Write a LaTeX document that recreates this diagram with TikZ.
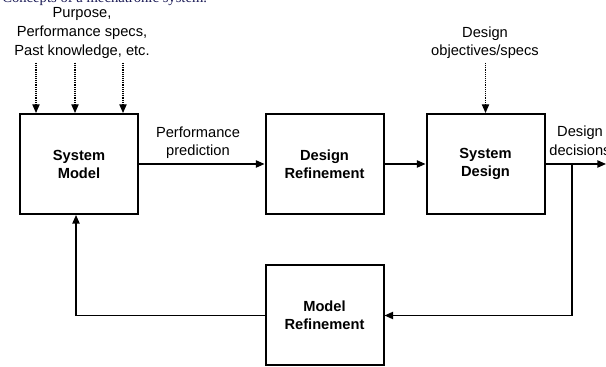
\documentclass[tikz,border=0pt]{standalone}
\usepackage{fontspec}
\setmainfont{Liberation Sans}
\newfontfamily\capfont{Liberation Serif}
\usetikzlibrary{arrows.meta}
\definecolor{capblue}{RGB}{25,25,85}

\begin{document}
\begin{tikzpicture}[x=0.75pt,y=0.75pt,
        block/.style={draw,line width=1.5pt,minimum width=88.5pt,minimum height=75pt,
            align=center,font=\fontsize{11}{13.5}\selectfont\bfseries},
        lbl/.style={align=center,font=\fontsize{11}{13.9}\selectfont},
        flow/.style={line width=1pt,-{Triangle[length=6.5pt,width=5.5pt]}},
        input/.style={flow,line width=0.8pt,dash pattern=on 0.7pt off 0.7pt}]
    \useasboundingbox (0,0) rectangle (606,367);
    %% caption
    \node[anchor=base west,inner sep=0pt,font=\capfont\fontsize{11}{13}\selectfont,text=capblue] (cap) at (2,364.5) {Concepts of a mechatronic system.};
    %% blocks
    \node[block] (SM) at (79,203) {System\\Model};
    \node[block] (DR) at (324.5,203) {Design\\Refinement};
    \node[block] (SD) at (485.5,203) {System\\Design};
    \node[block] (MR) at (324.5,51.5) {Model\\Refinement};
    %% labels
    \node[lbl] (req) at (82,334) {Purpose,\\Performance specs,\\Past knowledge, etc.};
    \node[lbl] (obj) at (485,324.5) {Design\\objectives/specs};
    \node[lbl] (pp) at (198,224.5) {Performance\\prediction};
    \node[lbl] (dd) at (580,226) {Design\\decisions};
    %% inputs
    \coordinate (i1) at (36,304);
    \coordinate (i2) at (75,304);
    \coordinate (i3) at (123,304);
    \coordinate (i4) at (485.5,304);
    \foreach \c in {i1,i2,i3}
        \draw[input] (\c) -- (\c |- SM.north);
    \draw[input] (i4) -- (SD.north);
    %% forward path
    \draw[flow] (SM.east) -- (DR.west);
    \draw[flow] (DR.east) -- (SD.west);
    \coordinate (out) at (606,203);
    \coordinate (J) at (572,203);
    \draw[flow] (SD.east) -- (out);
    %% feedback
    \draw[flow] (J) |- (MR.east);
    \draw[flow] (MR.west) -| ([xshift=-2.25pt]SM.south);
\end{tikzpicture}
\end{document}
